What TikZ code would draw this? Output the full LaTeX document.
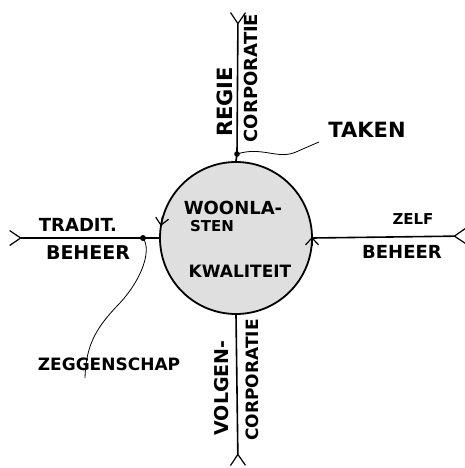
\documentclass[tikz,border=0pt]{standalone}
\usepackage{fontspec}
\setmainfont{DejaVu Sans}
\usetikzlibrary{arrows.meta}

\newcommand\pensize[1]{\bfseries\fontsize{#1}{#1}\selectfont}

\tikzset{
  pen/.style={inner sep=0pt, font=\pensize{#1}},
  axis/.style={line width=1.6pt, -{Straight Barb[reversed,length=11pt,width=15pt,line width=1.2pt]}},
  flowtip/.style={line width=1.2pt, -{Straight Barb[length=7pt,width=13pt]}},
  lead/.style={line width=0.8pt},
  kern/.style={circle, draw, line width=1.8pt, fill=gray!25, minimum size=152pt, inner sep=0pt},
}

\begin{document}
\begin{tikzpicture}[x=1pt,y=-1pt]
    \useasboundingbox (0,0) rectangle (464,468);
    % --- centre: the circle with its flow ---
    \node[kern] (kern) at (236,238) {};
    \coordinate (fl1) at (162.3,217);
    \coordinate (fl2) at (160.9,226);
    \coordinate (fr1) at (312,246);
    \coordinate (fr2) at (312,237);
    \draw[flowtip] (fl1) -- (fl2);
    \draw[flowtip] (fr1) -- (fr2);
    \node[pen=18] (woon) at (233,208) {WOONLA-};
    \node[pen=15] (sten) at (212,226) {STEN};
    \node[pen=17] (kwal) at (240,271) {KWALITEIT};
    % --- the four axes ---
    \coordinate (top) at (238,12);
    \coordinate (bot) at (238,466);
    \coordinate (lft) at (9,238);
    \coordinate (rgt) at (466,236);
    \coordinate (tdot) at (237,154);
    \coordinate (ldot) at (143,238);
    \draw[axis] (kern.north) -- (tdot) -- (top);
    \draw[axis] (kern.south) -- (bot);
    \draw[axis] (kern.west) -- (ldot) -- (lft);
    \draw[axis] (kern.east) -- (rgt);
    \fill (tdot) circle[radius=2.8];
    \fill (ldot) circle[radius=3];
    % --- axis labels ---
    \node[pen=21, rotate=90] (regie) at (225,102) {REGIE};
    \node[pen=18, rotate=90] (corpt) at (251,78) {CORPORATIE};
    \node[pen=19, rotate=90] (volg) at (222,388) {VOLGEN-};
    \node[pen=17, rotate=90] (corpb) at (252,380) {CORPORATIE};
    \node[pen=18] (trad) at (78,225) {TRADIT.};
    \node[pen=19] (behl) at (88,253) {BEHEER};
    \node[pen=15] (zelf) at (413,219) {ZELF};
    \node[pen=18] (behr) at (402,252) {BEHEER};
    % --- callouts ---
    \node[pen=21] (taken) at (367,130) {TAKEN};
    \node[pen=17] (zeg) at (109,364) {ZEGGENSCHAP};
    \coordinate (tk) at (319,142);
    \coordinate (zg) at (85,378);
    \draw[lead] (tdot) .. controls (262,146) and (278,160) .. (296,152)
      .. controls (305,148) and (312,145) .. (tk);
    \draw[lead] (ldot) .. controls (152,250) and (142,280) .. (118,305)
      .. controls (96,328) and (86,345) .. (zg);
  \end{tikzpicture}
\end{document}
